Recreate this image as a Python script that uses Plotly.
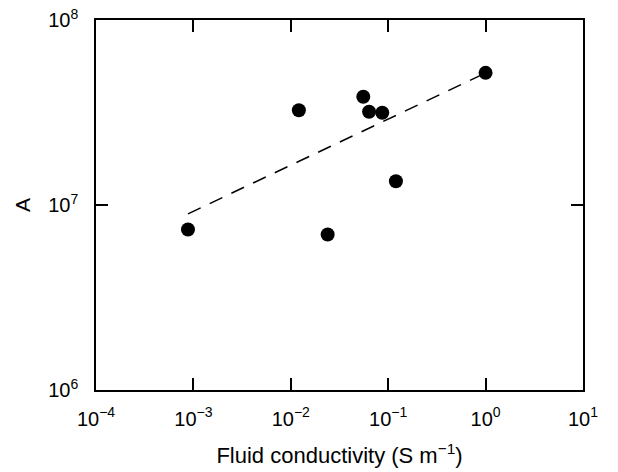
import plotly.graph_objects as go

# Data
conductivity = [0.00088, 0.0121, 0.0239, 0.0555, 0.0636, 0.0869, 0.120, 1.0]
A_values = [7.37e6, 3.25e7, 6.93e6, 3.85e7, 3.19e7, 3.15e7, 1.345e7, 5.18e7]

fit_x = [0.00088, 1.0]
fit_y = [8.96e6, 5.17e7]

x_tickvals = [1e-4, 1e-3, 1e-2, 1e-1, 1e0, 1e1]
x_ticktext = ["10<sup>\u22124</sup>", "10<sup>\u22123</sup>", "10<sup>\u22122</sup>",
              "10<sup>\u22121</sup>", "10<sup>0</sup>", "10<sup>1</sup>"]
y_tickvals = [1e6, 1e7, 1e8]
y_ticktext = ["10<sup>6</sup>", "10<sup>7</sup>", "10<sup>8</sup>"]

FONT = "Liberation Sans, Arial, sans-serif"

fig = go.Figure()
fig.add_trace(go.Scatter(
    x=fit_x, y=fit_y, mode="lines",
    line=dict(color="black", width=1.5, dash="14px,10px"),
    showlegend=False, hoverinfo="skip"))
fig.add_trace(go.Scatter(
    x=conductivity, y=A_values, mode="markers",
    marker=dict(color="black", size=14, line=dict(width=0)),
    showlegend=False))

axis_common = dict(
    type="log", showgrid=False, zeroline=False,
    showline=True, linecolor="black", linewidth=1.5, mirror="all",
    ticks="inside", ticklen=12, tickwidth=1.5, tickcolor="black",
    tickfont=dict(family=FONT, size=20, color="black"),
    automargin=False,
)

fig.update_xaxes(
    **axis_common,
    range=[-4, 1],
    tickvals=x_tickvals, ticktext=x_ticktext,
    ticklabelstandoff=10,
    title=dict(text="Fluid conductivity (S m<sup>\u22121</sup>)",
               font=dict(family=FONT, size=22, color="black"), standoff=19),
)
fig.update_yaxes(
    **axis_common,
    range=[6, 8],
    tickvals=y_tickvals, ticktext=y_ticktext,
    ticklabelstandoff=12,
    title=dict(text="A", font=dict(family=FONT, size=21, color="black"), standoff=12),
)

fig.update_layout(
    width=618, height=472,
    margin=dict(l=96, r=35, t=20, b=82),
    paper_bgcolor="white", plot_bgcolor="white",
)

fig.write_html("out.html")
